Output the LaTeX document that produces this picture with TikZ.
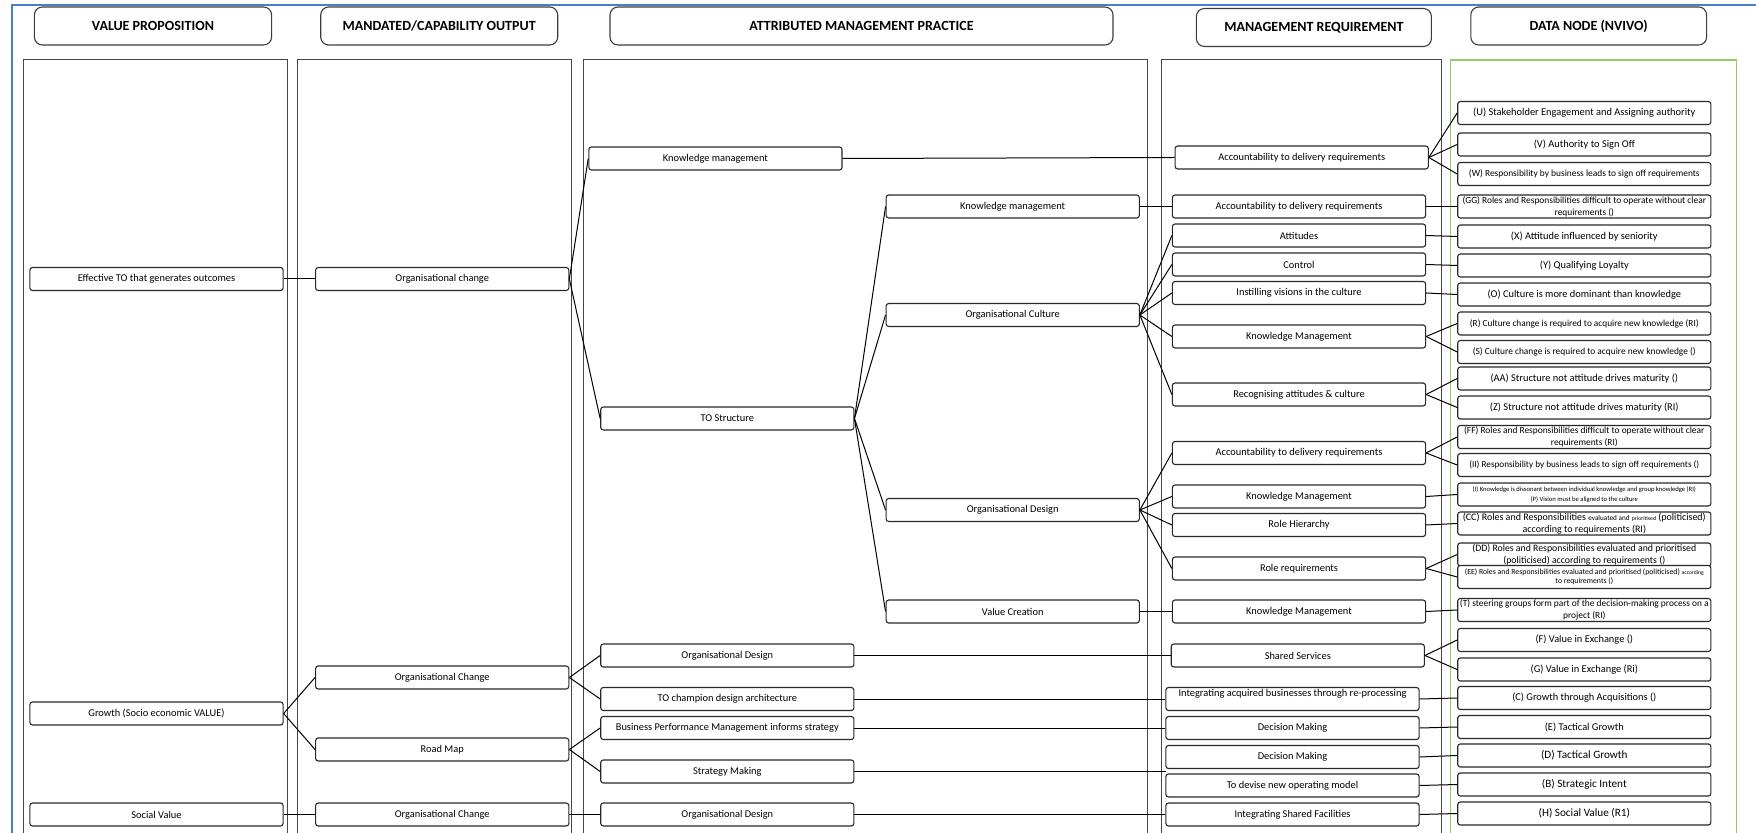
\documentclass[tikz,border=0pt]{standalone}
\usepackage{fontspec}
\setmainfont{Carlito}
\definecolor{boxdraw}{RGB}{40,40,40}
\definecolor{headdraw}{RGB}{60,60,60}
\definecolor{paneldraw}{RGB}{70,70,70}
\definecolor{panelgreen}{RGB}{146,205,100}
\definecolor{framblue}{RGB}{74,126,200}
\tikzset{
  bx/.style={draw=boxdraw, line width=0.55pt, rounded corners=1.3pt, fill=white,
    minimum height=11.5pt, inner sep=0pt, align=center,
    font=\fontsize{5.2}{6}\selectfont, minimum width=#1},
  bx/.default=126.6pt,
  hd/.style={draw=headdraw, line width=0.55pt, rounded corners=4pt, minimum height=19pt,
    inner sep=0pt, font=\bfseries\fontsize{7}{8}\selectfont, minimum width=#1},
  panel/.style={draw=paneldraw, line width=0.5pt},
  link/.style={draw=black, line width=0.5pt},
}
\newcommand\fsz[2]{\fontsize{#1}{#2}\selectfont}
\begin{document}
\begin{tikzpicture}[x=0.5pt,y=-0.5pt]
\useasboundingbox (0,0) rectangle (1756,833);
% outer frame
\draw[framblue, line width=1pt] (1760,5.5) -- (11.5,5.5) -- (11.5,840);
% column panels (open at the bottom edge)
\draw[panel] (23.7,836) -- (23.7,60) -- (287,60) -- (287,836);
\draw[panel] (297.7,836) -- (297.7,60) -- (571.4,60) -- (571.4,836);
\draw[panel] (583,836) -- (583,60) -- (1147,60) -- (1147,836);
\draw[panel] (1161,836) -- (1161,60) -- (1441.8,60) -- (1441.8,836);
\draw[panelgreen, line width=0.6pt] (1450.7,836) -- (1450.7,60) -- (1736.7,60) -- (1736.7,836);

% column headings
\node[hd=118.6pt] (h1) at (153,26) {VALUE PROPOSITION};
\node[hd=118.5pt] (h2) at (439.2,26) {MANDATED/CAPABILITY OUTPUT};
\node[hd=251.5pt] (h3) at (861.5,26) {ATTRIBUTED MANAGEMENT PRACTICE};
\node[hd=117.5pt] (h4) at (1313.9,27.5) {MANAGEMENT REQUIREMENT};
\node[hd=117.9pt] (h5) at (1588.7,26) {DATA NODE (NVIVO)};

% value proposition
\node[bx] (eff) at (156.5,279) {Effective TO that generates outcomes};
\node[bx] (growth) at (156.5,713.5) {Growth (Socio economic VALUE)};
\node[bx] (social) at (156.5,814.5) {Social Value};

% mandated / capability output
\node[bx] (oc1) at (442.2,279) {Organisational change};
\node[bx] (oc2) at (442.2,677.5) {Organisational Change};
\node[bx] (rmap) at (442.2,749.5) {Road Map};
\node[bx] (oc3) at (442.2,814.5) {Organisational Change};

% attributed management practice, first tier
\node[bx] (kmtop) at (715.4,158.5) {Knowledge management};
\node[bx] (tos) at (727.3,418.5) {TO Structure};
\node[bx] (odlow) at (727.3,655.5) {Organisational Design};
\node[bx] (toch) at (727.3,699) {TO champion design architecture};
\node[bx] (bpm) at (727.3,728) {Business Performance Management informs strategy};
\node[bx] (strat) at (727.3,771.5) {Strategy Making};
\node[bx] (odbot) at (727.3,814.5) {Organisational Design};

% attributed management practice, second tier
\node[bx] (km2) at (1012.7,206.5) {Knowledge management};
\node[bx] (ocul) at (1012.7,315) {Organisational Culture};
\node[bx] (odes) at (1012.7,510) {Organisational Design};
\node[bx] (vcr) at (1012.7,611.5) {Value Creation};

% management requirement
\begin{scope}[every node/.append style={font=\fsz{5.3}{6}}]
\node[bx] (acc1) at (1301.7,157.5) {Accountability to delivery requirements};
\node[bx] (acc2) at (1299,206.5) {Accountability to delivery requirements};
\node[bx] (att) at (1299,235.5) {Attitudes};
\node[bx] (ctrl) at (1299,264.5) {Control};
\node[bx] (inst) at (1299,293) {Instilling visions in the culture};
\node[bx] (kma) at (1299,336.5) {Knowledge Management};
\node[bx] (rec) at (1299,394.5) {Recognising attitudes \& culture};
\node[bx] (acc3) at (1299,453) {Accountability to delivery requirements};
\node[bx] (kmb) at (1299,496.5) {Knowledge Management};
\node[bx] (rh) at (1299,525) {Role Hierarchy};
\node[bx] (rr) at (1299,568.5) {Role requirements};
\node[bx] (kmc) at (1299,611.5) {Knowledge Management};
\node[bx] (ss) at (1297.8,655.5) {Shared Services};
\node[bx] (iab) at (1292.5,699) {\raisebox{2.5pt}[4pt][1pt]{Integrating acquired businesses through re-processing}};
\node[bx] (dm1) at (1292.5,728) {Decision Making};
\node[bx] (dm2) at (1292.5,757) {Decision Making};
\node[bx] (dev) at (1292.5,785.5) {To devise new operating model};
\node[bx] (isf) at (1292.5,814.5) {Integrating Shared Facilities};
\end{scope}
\coordinate (smend) at (1165.5,771.5);

% data nodes
\begin{scope}[every node/.append style={font=\fsz{4.8}{5.9}}]
\node[bx] (nU) at (1584.3,113) {(U) Stakeholder Engagement and Assigning authority};
\node[bx] (nV) at (1584.3,144.5) {(V) Authority to Sign Off};
\node[bx, font=\fsz{4.7}{5.9}] (nW) at (1584.3,174) {(W) Responsibility by business leads to sign off requirements};
\node[bx, font=\fsz{4.7}{5.9}] (nGG) at (1584.3,206.5) {(GG) Roles and Responsibilities difficult to operate without clear\\requirements ()};
\node[bx] (nX) at (1584.3,236.5) {(X) Attitude influenced by seniority};
\node[bx] (nY) at (1584.3,265.5) {(Y) Qualifying Loyalty};
\node[bx] (nO) at (1584.3,294.5) {(O) Culture is more dominant than knowledge};
\node[bx, font=\fsz{4.65}{5.9}] (nR) at (1584.3,323.5) {(R) Culture change is required to acquire new knowledge (RI)};
\node[bx, font=\fsz{4.7}{5.9}] (nS) at (1584.3,352) {(S) Culture change is required to acquire new knowledge ()};
\node[bx] (nAA) at (1584.3,378.5) {(AA) Structure not attitude drives maturity ()};
\node[bx] (nZ) at (1584.3,407.5) {(Z) Structure not attitude drives maturity (RI)};
\node[bx, font=\fsz{4.7}{5.9}] (nFF) at (1584.3,437) {(FF) Roles and Responsibilities difficult to operate without clear\\requirements (RI)};
\node[bx, font=\fsz{4.6}{5.9}] (nII) at (1584.3,465) {(II) Responsibility by business leads to sign off requirements ()};
\node[bx, font=\fsz{3.3}{4.7}] (nIP) at (1584.3,494.5) {(I) Knowledge is dissonant between individual knowledge and group knowledge (RI)\\(P) Vision must be aligned to the culture};
\node[bx, font=\fsz{5}{5.9}] (nCC) at (1584.3,523.5) {(CC) Roles and Responsibilities {\fsz{3.6}{5.9}evaluated and} {\fsz{2.9}{5.9}prioritised} (politicised)\\according to requirements (RI)};
\node[bx, font=\fsz{4.9}{5.8}] (nDD) at (1584.3,554.5) {(DD) Roles and Responsibilities evaluated and prioritised\\(politicised) according to requirements ()};
\node[bx, font=\fsz{3.9}{4.5}] (nEE) at (1584.3,577) {(EE) Roles and Responsibilities evaluated and prioritised (politicised) {\fsz{2.8}{4.5}according}\\to requirements ()};
\node[bx, font=\fsz{4.7}{5.9}] (nT) at (1584.3,610) {(T) steering groups form part of the decision-making process on a\\project (RI)};
\node[bx] (nF) at (1584.3,640) {(F) Value in Exchange ()};
\node[bx] (nG) at (1584.3,669.5) {(G) Value in Exchange (Ri)};
\node[bx] (nC) at (1584.3,698) {(C) Growth through Acquisitions ()};
\node[bx] (nE) at (1584.3,727) {(E) Tactical Growth};
\node[bx, font=\fsz{5.6}{6}] (nD) at (1584.3,755.5) {(D) Tactical Growth};
\node[bx, font=\fsz{5.6}{6}] (nB) at (1584.3,784.5) {(B) Strategic Intent};
\node[bx, font=\fsz{5.6}{6}] (nH) at (1584.3,813.5) {(H) Social Value (R1)};
\end{scope}

% connectors
\draw[link] (eff.east) -- (oc1.west);
\draw[link] (oc1.east) -- (kmtop.west);
\draw[link] (oc1.east) -- (tos.west);
\draw[link] (kmtop.east) -- (acc1.west);
\foreach \t in {km2,ocul,odes,vcr} \draw[link] (tos.east) -- (\t.west);
\draw[link] (km2.east) -- (acc2.west);
\foreach \t in {att,ctrl,inst,kma,rec} \draw[link] (ocul.east) -- (\t.west);
\foreach \t in {acc3,kmb,rh,rr} \draw[link] (odes.east) -- (\t.west);
\draw[link] (vcr.east) -- (kmc.west);
\foreach \t in {nU,nV,nW} \draw[link] (acc1.east) -- (\t.west);
\draw[link] (acc2.east) -- (nGG.west);
\draw[link] (att.east) -- (nX.west);
\draw[link] (ctrl.east) -- (nY.west);
\draw[link] (inst.east) -- (nO.west);
\foreach \t in {nR,nS} \draw[link] (kma.east) -- (\t.west);
\foreach \t in {nAA,nZ} \draw[link] (rec.east) -- (\t.west);
\foreach \t in {nFF,nII} \draw[link] (acc3.east) -- (\t.west);
\draw[link] (kmb.east) -- (nIP.west);
\draw[link] (rh.east) -- (nCC.west);
\foreach \t in {nDD,nEE} \draw[link] (rr.east) -- (\t.west);
\draw[link] (kmc.east) -- (nT.west);
\foreach \t in {oc2,rmap} \draw[link] (growth.east) -- (\t.west);
\foreach \t in {odlow,toch} \draw[link] (oc2.east) -- (\t.west);
\foreach \t in {bpm,strat} \draw[link] (rmap.east) -- (\t.west);
\draw[link] (odlow.east) -- (ss.west);
\draw[link] (toch.east) -- (iab.west);
\draw[link] (bpm.east) -- (dm1.west);
\draw[link] (strat.east) -- (smend);
\foreach \t in {nF,nG} \draw[link] (ss.east) -- (\t.west);
\draw[link] (iab.east) -- (nC.west);
\draw[link] (dm1.east) -- (nE.west);
\draw[link] (dm2.east) -- (nD.west);
\draw[link] (dev.east) -- (nB.west);
\draw[link] (isf.east) -- (nH.west);
\draw[link] (social.east) -- (oc3.west);
\draw[link] (oc3.east) -- (odbot.west);
\draw[link] (odbot.east) -- (isf.west);
\end{tikzpicture}
\end{document}
